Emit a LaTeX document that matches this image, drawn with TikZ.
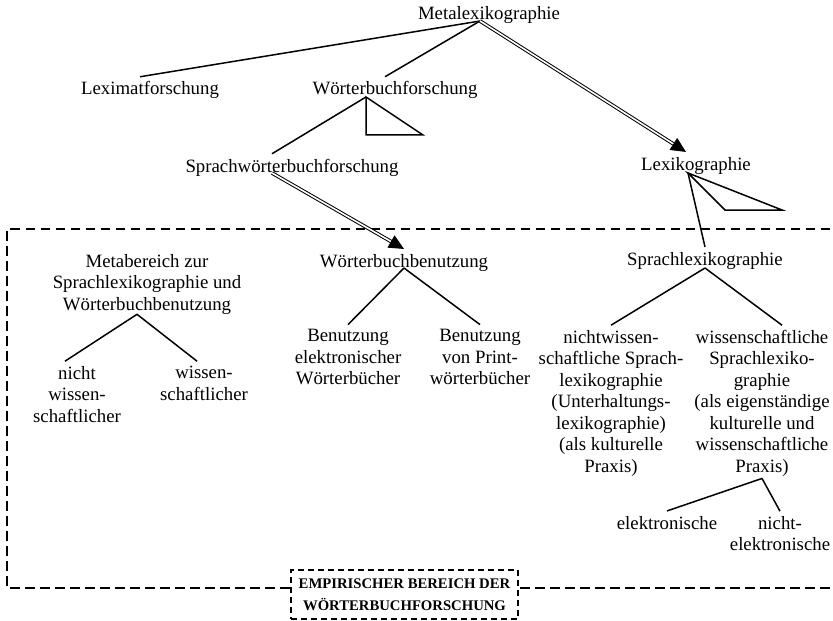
\documentclass[tikz,border=0pt]{standalone}
\usepackage{fontspec}
\setmainfont{Liberation Serif}
\usetikzlibrary{arrows.meta}

\begin{document}
\begin{tikzpicture}[x=0.5pt, y=-0.5pt,
    term/.style={inner sep=0pt, outer sep=2.5pt, align=center, font=\fontsize{9.4}{10.75}\selectfont},
    edge/.style={line width=0.75pt},
    dbl/.style={double, double distance=0.8pt, line width=0.5pt, -{Triangle[length=7.5pt,width=7pt]}},
    area/.style={dash pattern=on 4.75pt off 2.75pt, line width=0.9pt},
    areaname/.style={draw, dash pattern=on 3pt off 2pt, line width=0.8pt, fill=white, inner sep=0pt,
        minimum width=113.5pt, minimum height=24.5pt, align=center, font=\fontsize{7.35}{11}\selectfont\bfseries}]

    \useasboundingbox (0,0) rectangle (833,620);

    % Area
    \draw[area] (845,229) -- (7,229) -- (7,588) -- (845,588);
    \node[areaname] (emp) at (404.5,594.5) {EMPIRISCHER BEREICH DER\\WÖRTERBUCHFORSCHUNG};

    % Nodes
    \node[term, anchor=base] (meta) at (489,19.5) {Metalexikographie};
    \node[term, anchor=base] (lexim) at (150,95) {Leximatforschung};
    \node[term, anchor=base] (wbf) at (395,95) {Wörterbuchforschung};
    \node[term, anchor=base] (swbf) at (292,172) {Sprachwörterbuchforschung};
    \node[term, anchor=base] (lexi) at (696,170) {Lexikographie};
    \node[term, anchor=north] (metab) at (147,249.2) {Metabereich zur\\Sprachlexikographie und\\Wörterbuchbenutzung};
    \node[term, anchor=base] (wbb) at (404,267) {Wörterbuchbenutzung};
    \node[term, anchor=base] (slex) at (705,265) {Sprachlexikographie};
    \node[term, anchor=north] (nwiss) at (77,361.2) {nicht\\wissen-\\schaftlicher};
    \node[term, anchor=north] (wiss) at (204,361.2) {wissen-\\schaftlicher};
    \node[term, anchor=north] (belek) at (348,324.6) {Benutzung\\elektronischer\\Wörterbücher};
    \node[term, anchor=north] (bprint) at (480,324.6) {Benutzung\\von Print-\\wörterbücher};
    \node[term, anchor=north] (nwsl) at (611,325.2) {nichtwissen-\\schaftliche Sprach-\\lexikographie\\(Unterhaltungs-\\lexikographie)\\(als kulturelle\\Praxis)};
    \node[term, anchor=north] (wsl) at (762,325.2) {wissenschaftliche\\Sprachlexiko-\\graphie\\(als eigenständige\\kulturelle und\\wissenschaftliche\\Praxis)};
    \node[term, anchor=base] (elek) at (667,529) {elektronische};
    \node[term, anchor=north] (nelek) at (780,511.2) {nicht-\\elektronische};

    % Forks
    \coordinate (metaF) at ([xshift=-4.5pt, yshift=-0.75pt]meta.base);
    \coordinate (wbfF) at ([xshift=-14.5pt, yshift=-1pt]wbf.base);
    \coordinate (swbfF) at ([xshift=-10pt, yshift=-0.5pt]swbf.base);
    \coordinate (lexiF) at ([xshift=-4pt, yshift=-1.5pt]lexi.base);
    \coordinate (metabF) at ([xshift=-5pt, yshift=2.5pt]metab.south);
    \coordinate (wbbF) at ([yshift=-0.5pt]wbb.base);
    \coordinate (slexF) at ([yshift=-1.5pt]slex.base);
    \coordinate (wslF) at ([yshift=1.5pt]wsl.south);

    % Edges
    \draw[edge] (metaF) -- ([xshift=-5pt]lexim.north);
    \draw[edge] (metaF) -- ([xshift=-5pt]wbf.north);
    \draw[dbl] (metaF) -- ([xshift=-5pt]lexi.north);
    \draw[edge] (wbfF) -- ([xshift=-10pt]swbf.north);
    \draw[edge] (wbfF) -- ++(0,38) -- ++(57,0) -- cycle;
    \draw[dbl] (swbfF) -- (wbb.north);
    \draw[edge] (lexiF) -- (slex.north);
    \draw[edge] (lexiF) -- ++(37,37) -- ++(57,0) -- cycle;
    \draw[edge] (metabF) -- ([xshift=-6pt]nwiss.north);
    \draw[edge] (metabF) -- ([xshift=-3.5pt]wiss.north);
    \draw[edge] (wbbF) -- (belek.north);
    \draw[edge] (wbbF) -- (bprint.north);
    \draw[edge] (slexF) -- (nwsl.north);
    \draw[edge] (slexF) -- ([xshift=10pt]wsl.north);
    \draw[edge] (wslF) -- (elek.north);
    \draw[edge] (wslF) -- (nelek.north);
\end{tikzpicture}
\end{document}
